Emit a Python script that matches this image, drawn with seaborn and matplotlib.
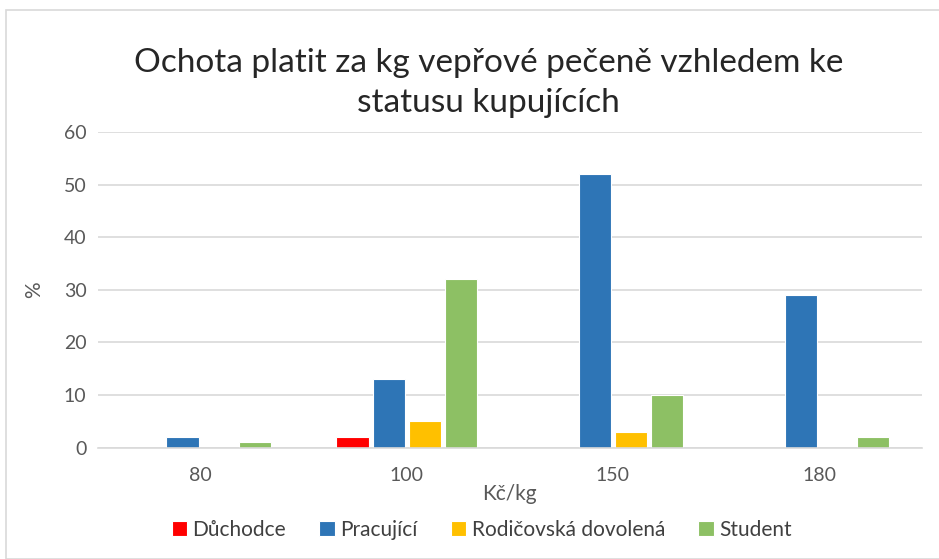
import pandas as pd
import matplotlib.pyplot as plt
import seaborn as sns
from matplotlib.patches import Rectangle

# data
prices = ['80', '100', '150', '180']
duchodce = [0, 2, 0, 0]
pracujici = [2, 13, 52, 29]
rodicovska = [0, 5, 3, 0]
student = [1, 32, 10, 2]
groups = ['Důchodce', 'Pracující', 'Rodičovská dovolená', 'Student']
colors = ['#FF0000', '#2E75B6', '#FFC000', '#8DC064']

df = pd.DataFrame({'Kč/kg': prices * 4,
                   'status': [g for g in groups for _ in prices],
                   'pct': duchodce + pracujici + rodicovska + student})

sns.set_theme(style='white')
plt.rcParams['font.family'] = ['Lato', 'DejaVu Sans']

fig = plt.figure(figsize=(9.39, 5.59), dpi=100)
ax = fig.add_axes([0.104, 0.199, 0.878, 0.565])

sns.barplot(data=df, x='Kč/kg', y='pct', hue='status', palette=colors,
            saturation=1, width=0.7, gap=0.1, ax=ax, order=prices,
            hue_order=groups, edgecolor='white', linewidth=0.8)

ax.set_ylim(0, 60)
ax.set_yticks(range(0, 61, 10))
ax.yaxis.grid(True, color='#D9D9D9', linewidth=1.2)
ax.set_axisbelow(True)
for s in ['top', 'right', 'left']:
    ax.spines[s].set_visible(False)
ax.spines['bottom'].set_color('#D9D9D9')
ax.spines['bottom'].set_linewidth(1.2)
ax.tick_params(axis='both', colors='#595959', labelsize=14, length=0, pad=8)
ax.tick_params(axis='x', pad=14)
ax.set_xlabel('Kč/kg', fontsize=15, color='#595959', labelpad=0)
ax.set_ylabel('%', fontsize=15, color='#595959', labelpad=14)

fig.suptitle('Ochota platit za kg vepřové pečeně vzhledem ke\nstatusu kupujících',
             fontsize=24, x=0.52, y=0.915, linespacing=1.45)

ax.legend_.remove()
handles, labels = ax.get_legend_handles_labels()
fig.legend(handles, labels, loc='center', bbox_to_anchor=(0.513, 0.052), ncol=4,
           frameon=False, fontsize=15, handlelength=0.75, handleheight=0.75,
           handletextpad=0.25, columnspacing=1.6, labelcolor='#404040')

fig.patches.append(Rectangle((0.006, 0.0), 1.0, 0.983, transform=fig.transFigure,
                             fill=False, edgecolor='#D9D9D9', linewidth=1.2))

fig.savefig('out.png', dpi=100)
